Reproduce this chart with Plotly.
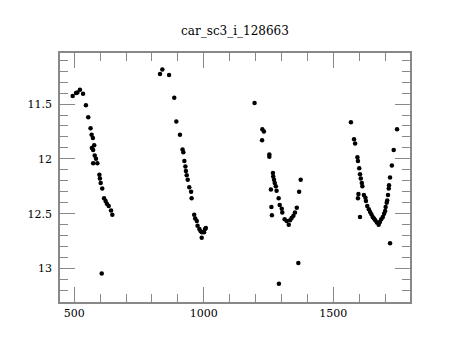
import plotly.graph_objects as go

title_text = "car_sc3_i_128663"

# Cluster 1
x1 = [494, 507, 512, 522, 534, 545, 554, 563, 567, 572, 577, 568, 573, 579, 584, 573, 589,
      597, 599, 602, 608, 615, 621, 626, 633, 642, 647, 606]
y1 = [11.427, 11.40, 11.395, 11.37, 11.406, 11.51, 11.62, 11.72, 11.78, 11.81, 11.876, 11.90,
      11.92, 11.97, 12.0, 12.04, 12.04, 12.145, 12.18, 12.22, 12.27, 12.36, 12.385, 12.41,
      12.43, 12.47, 12.51, 13.045]
# Cluster 2
x2 = [831, 840, 866, 886, 894, 908, 918, 921, 925, 929, 931, 934, 938, 944, 951, 953, 963,
      967, 973, 976, 983, 988, 993, 1001, 992, 1005, 1008]
y2 = [11.225, 11.185, 11.234, 11.443, 11.66, 11.78, 11.915, 11.94, 12.02, 12.07, 12.11, 12.15,
      12.19, 12.26, 12.30, 12.36, 12.51, 12.545, 12.567, 12.61, 12.64, 12.66, 12.67, 12.67,
      12.72, 12.64, 12.63]
# Cluster 3
x3 = [1196, 1226, 1232, 1225, 1253, 1253, 1267, 1268, 1271, 1274, 1278, 1281, 1259, 1289,
      1293, 1261, 1263, 1301, 1303, 1312, 1320, 1328, 1333, 1339, 1346, 1352, 1359, 1368,
      1374, 1365, 1290]
y3 = [11.49, 11.73, 11.75, 11.83, 11.96, 11.98, 12.13, 12.16, 12.19, 12.22, 12.25, 12.29,
      12.28, 12.36, 12.42, 12.44, 12.515, 12.455, 12.49, 12.55, 12.567, 12.60, 12.56, 12.54,
      12.52, 12.49, 12.445, 12.30, 12.19, 12.95, 13.14]
# Cluster 4
x4 = [1568, 1580, 1584, 1593, 1595, 1600, 1603, 1606, 1610, 1612, 1597, 1595, 1603, 1618,
      1624, 1626, 1631, 1637, 1642, 1647, 1652, 1657, 1662, 1668, 1675, 1680, 1685, 1691,
      1696, 1700, 1702, 1706, 1708, 1711, 1714, 1715, 1719, 1726, 1733, 1746, 1719]
y4 = [11.667, 11.82, 11.86, 11.985, 12.02, 12.085, 12.14, 12.18, 12.22, 12.25, 12.32, 12.36,
      12.53, 12.33, 12.355, 12.385, 12.43, 12.46, 12.485, 12.505, 12.53, 12.545, 12.56, 12.58,
      12.60, 12.576, 12.55, 12.53, 12.50, 12.476, 12.44, 12.40, 12.38, 12.33, 12.27, 12.24,
      12.17, 12.06, 11.92, 11.73, 12.77]

xs = x1 + x2 + x3 + x4
ys = y1 + y2 + y3 + y4

fig = go.Figure(go.Scatter(x=xs, y=ys, mode="markers",
                           marker=dict(color="black", size=4.5, line=dict(width=0))))

axcol = "#888888"
font = "DejaVu Serif"
W, H = 452, 332  # page body has an 8px margin
fig.update_layout(
    width=W, height=H,
    margin=dict(l=52, r=50, t=45, b=38),
    paper_bgcolor="white", plot_bgcolor="white",
    showlegend=False,
    title=dict(text=title_text, x=(235 - 8) / W, xanchor="center", y=1 - 23 / H, yanchor="middle",
               font=dict(family=font, size=12, color="black")),
    font=dict(family=font, size=11, color="black"),
)
fig.update_xaxes(range=[445, 1796], showgrid=False, zeroline=False,
                 showline=True, linecolor=axcol, linewidth=1.5, mirror="allticks",
                 ticks="inside", ticklen=15, tickwidth=1, tickcolor=axcol,
                 tick0=500, dtick=500,
                 minor=dict(ticks="inside", ticklen=8, dtick=100, tick0=500,
                            tickcolor=axcol, tickwidth=1, showgrid=False),
                 tickfont=dict(family=font, size=11, color="black"))
fig.update_yaxes(range=[13.306, 11.034], showgrid=False, zeroline=False,
                 showline=True, linecolor=axcol, linewidth=1.5, mirror="allticks",
                 ticks="inside", ticklen=15, tickwidth=1, tickcolor=axcol,
                 tick0=11.5, dtick=0.5,
                 minor=dict(ticks="inside", ticklen=8, dtick=0.1, tick0=11.0,
                            tickcolor=axcol, tickwidth=1, showgrid=False),
                 tickfont=dict(family=font, size=11, color="black"),
                 ticklabelstandoff=4)
fig.write_html("out.html")
